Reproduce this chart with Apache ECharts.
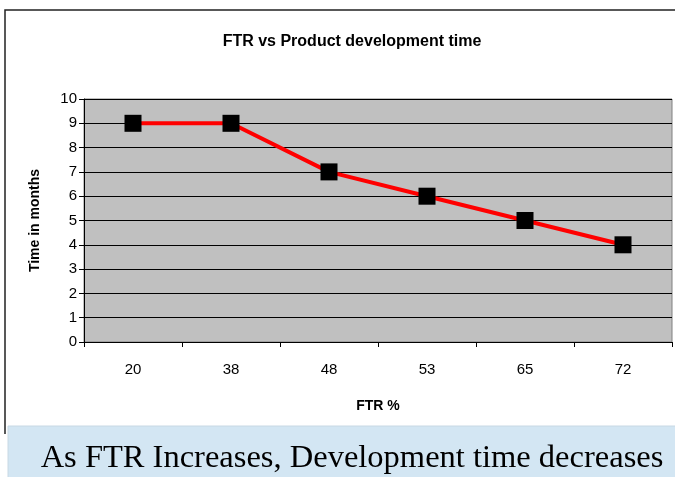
<!DOCTYPE html>
<html>
<head>
<meta charset="utf-8">
<script src="https://cdn.jsdelivr.net/npm/echarts@6/dist/echarts.min.js"></script>
<style>
  html, body { margin: 0; padding: 0; background: #fff; }
  #chart { width: 675px; height: 477px; }
</style>
</head>
<body>
<div id="chart"></div>
<script>
const ftrLabels = ['20', '38', '48', '53', '65', '72']
const monthsValues = [9, 9, 7, 6, 5, 4]
const chartTitle = 'FTR vs Product development time'
const captionText = 'As FTR Increases, Development time decreases'

const narrow = '"Liberation Sans Narrow", "Arial Narrow", "Liberation Sans", Arial, sans-serif'

const chart = echarts.init(document.getElementById('chart'))
chart.setOption({
  backgroundColor: '#fff',
  animation: false,
  title: {
    text: chartTitle,
    left: 347,
    textAlign: 'center',
    top: 29,
    textStyle: { fontFamily: narrow, fontSize: 16, fontWeight: 'bold', color: '#000' }
  },
  graphic: [
    {
      type: 'polyline',
      shape: { points: [[5, 434], [5, 10], [676, 10]] },
      style: { stroke: '#222', lineWidth: 1.5, fill: null },
      z: 0
    },
    {
      type: 'rect',
      shape: { x: 8, y: 426, width: 670, height: 55 },
      style: { fill: '#d3e6f3', stroke: '#c8d8e4', lineWidth: 1 },
      z: 0
    },
    {
      type: 'text',
      x: 352,
      y: 458,
      style: {
        text: captionText,
        font: '32.5px "Liberation Serif", "Times New Roman", serif',
        fill: '#000',
        align: 'center',
        verticalAlign: 'middle'
      },
      z: 1
    }
  ],
  grid: {
    left: 84,
    right: 3,
    top: 99,
    bottom: 135,
    show: true,
    backgroundColor: '#c0c0c0',
    borderColor: '#808080',
    borderWidth: 1
  },
  xAxis: {
    type: 'category',
    data: ftrLabels,
    boundaryGap: true,
    name: 'FTR %',
    nameLocation: 'middle',
    nameGap: 57,
    nameTextStyle: { fontFamily: narrow, fontSize: 14, fontWeight: 'bold', color: '#000' },
    axisLine: { lineStyle: { color: '#000', width: 1 } },
    axisTick: { show: true, length: 5, lineStyle: { color: '#000' } },
    axisLabel: { fontFamily: narrow, fontSize: 15, color: '#000', margin: 20 },
    splitLine: { show: false }
  },
  yAxis: {
    type: 'value',
    min: 0,
    max: 10,
    interval: 1,
    name: 'Time in months',
    nameLocation: 'middle',
    nameGap: 42,
    nameTextStyle: { fontFamily: narrow, fontSize: 14, fontWeight: 'bold', color: '#000' },
    axisLine: { show: true, lineStyle: { color: '#000', width: 1 } },
    axisTick: { show: true, length: 5, lineStyle: { color: '#000' } },
    axisLabel: { fontFamily: '"Liberation Sans", Arial, sans-serif', fontSize: 15, color: '#000', margin: 7 },
    splitLine: { show: true, lineStyle: { color: '#000', width: 1 } }
  },
  series: [
    {
      type: 'line',
      data: monthsValues,
      symbol: 'rect',
      symbolSize: 17,
      itemStyle: { color: '#000' },
      lineStyle: { color: '#ff0000', width: 4 },
      z: 3
    }
  ]
})
</script>
</body>
</html>
